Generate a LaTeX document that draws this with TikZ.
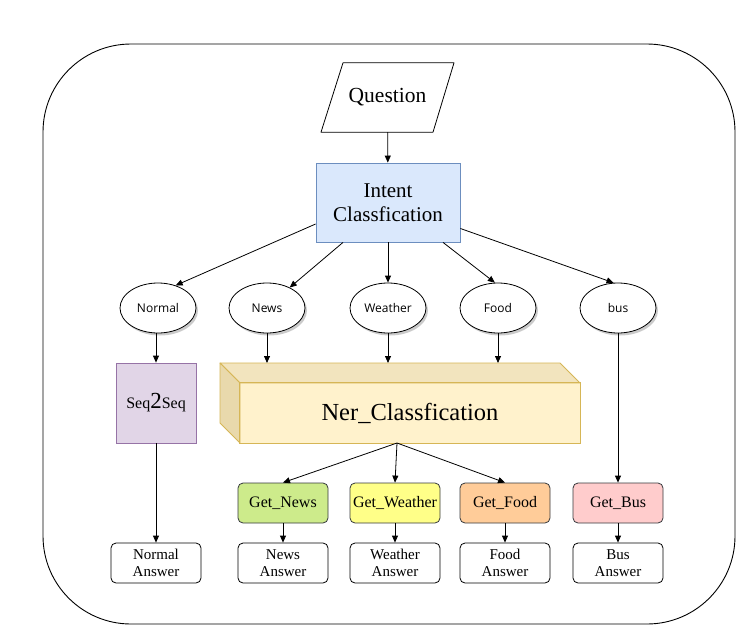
\documentclass[tikz,border=0pt]{standalone}
\usepackage{fontspec}
\setmainfont{Liberation Serif}
\newfontfamily\ellfont{Open Sans}
\usetikzlibrary{shapes.geometric,arrows.meta,shadows}
\definecolor{intentfill}{HTML}{DAE8FC}
\definecolor{intentdraw}{HTML}{6C8EBF}
\definecolor{seqfill}{HTML}{E1D5E7}
\definecolor{seqdraw}{HTML}{9673A6}
\definecolor{nerfill}{HTML}{FFF2CC}
\definecolor{nertop}{HTML}{F2E4BE}
\definecolor{nerleft}{HTML}{E9D9AC}
\definecolor{nerdraw}{HTML}{D6B656}
\definecolor{newsfill}{HTML}{CDEB8B}
\definecolor{weatherfill}{HTML}{FFFF88}
\definecolor{foodfill}{HTML}{FFCC99}
\definecolor{busfill}{HTML}{FFCCCC}
\definecolor{getdraw}{HTML}{36393D}
\begin{document}
\begin{tikzpicture}[x=1pt,y=-1pt,
  arr/.style={-{Triangle[length=7pt,width=6pt]}, line width=0.8pt},
  ell/.style={ellipse, draw, line width=0.8pt, fill=white, minimum width=76pt, minimum height=50pt, inner sep=0pt,
     font=\ellfont\fontsize{12}{14}\selectfont,
     drop shadow={shadow xshift=2pt, shadow yshift=-2.5pt, fill=black!40, opacity=0.5}},
  getbox/.style={draw=getdraw, line width=0.8pt, rounded corners=5pt, minimum width=90pt, minimum height=40pt, inner sep=0pt,
     font=\fontsize{16}{18}\selectfont},
  ansbox/.style={draw=black, line width=0.8pt, rounded corners=5pt, minimum width=90pt, minimum height=40pt, inner sep=0pt,
     align=center, font=\fontsize{15}{17}\selectfont}
]
\useasboundingbox (0,0) rectangle (752,642);
\fill[white] (0,0) rectangle (752,642);
% outer frame
\draw[line width=0.9pt, rounded corners=88pt] (43,44) rectangle (735,624);

% question
\node[minimum width=112pt, minimum height=69pt, inner sep=0pt,
      font=\fontsize{21.5}{24}\selectfont] (question) at (387.5,97.5) {Question};
\draw[line width=0.8pt, line join=round]
  ([xshift=-44.5pt]question.north) -- ([xshift=66.5pt]question.north)
  -- ([xshift=45.5pt]question.south) -- ([xshift=-66.5pt]question.south) -- cycle;

% intent
\node[draw=intentdraw, fill=intentfill, line width=0.8pt, minimum width=144pt, minimum height=79pt, inner sep=0pt,
      align=center, font=\fontsize{21}{24}\selectfont] (intent) at (388,202.5) {Intent\\Classfication};

\draw[arr] (question) -- (intent);

% ellipses
\node[ell] (normal)  at (158,308) {Normal};
\node[ell] (news)    at (267,308) {News};
\node[ell] (weather) at (388,308) {Weather};
\node[ell] (food)    at (498,308) {Food};
\node[ell] (bus)     at (618,308) {bus};

\draw[arr] ([yshift=-21.5pt]intent.west) -- (normal.52);
\draw[arr] ([xshift=-45pt]intent.south) -- (news.42);
\draw[arr] (intent.south) -- (weather.north);
\draw[arr] ([xshift=55pt]intent.south) -- (food.97);
\draw[arr] ([yshift=-26pt]intent.east) -- (bus.100);

% seq2seq
\node[draw=seqdraw, fill=seqfill, line width=0.8pt, minimum width=80pt, minimum height=80pt, inner sep=0pt] (seq) at (156,403)
  {{\fontsize{16}{18}\selectfont Seq}{\fontsize{23}{23}\selectfont 2}{\fontsize{16}{18}\selectfont Seq}};
\draw[arr] (normal.south -| seq.north) -- (seq.north);

% Ner cube
\node[fill=nerfill, minimum width=340pt, minimum height=60pt, inner sep=0pt,
      font=\fontsize{24.5}{27}\selectfont] (ner) at (410,413) {Ner\_Classfication};
\coordinate (nerb) at (397,443);
\coordinate (nertopl) at (220,363);
\filldraw[fill=nertop, draw=nerdraw, line width=0.8pt, line join=round] (220,363) -- (560,363) -- (580,383) -- (240,383) -- cycle;
\filldraw[fill=nerleft, draw=nerdraw, line width=0.8pt, line join=round] (220,363) -- (240,383) -- (240,443) -- (220,423) -- cycle;
\draw[draw=nerdraw, line width=0.8pt] (ner.south west) rectangle (ner.north east);

\draw[arr] (news) -- (news |- nertopl);
\draw[arr] (weather) -- (weather |- nertopl);
\draw[arr] (food) -- (food |- nertopl);

% get boxes
\node[getbox, fill=newsfill]    (getnews)    at (283,503) {Get\_News};
\node[getbox, fill=weatherfill] (getweather) at (395,503) {Get\_Weather};
\node[getbox, fill=foodfill]    (getfood)    at (505,503) {Get\_Food};
\node[getbox, fill=busfill]     (getbus)     at (618,503) {Get\_Bus};

\draw[arr] (nerb) -- (getnews.north);
\draw[arr] (nerb) -- (getweather.north);
\draw[arr] (nerb) -- (getfood.north);
\draw[arr] (bus) -- (getbus);

% answers
\node[ansbox] (normalans)  at (156,563) {Normal\\Answer};
\node[ansbox] (newsans)    at (283,563) {News\\Answer};
\node[ansbox] (weatherans) at (395,563) {Weather\\Answer};
\node[ansbox] (foodans)    at (505,563) {Food\\Answer};
\node[ansbox] (busans)     at (618,563) {Bus\\Answer};

\draw[arr] (seq) -- (normalans);
\draw[arr] (getnews) -- (newsans);
\draw[arr] (getweather) -- (weatherans);
\draw[arr] (getfood) -- (foodans);
\draw[arr] (getbus) -- (busans);
\end{tikzpicture}
\end{document}
